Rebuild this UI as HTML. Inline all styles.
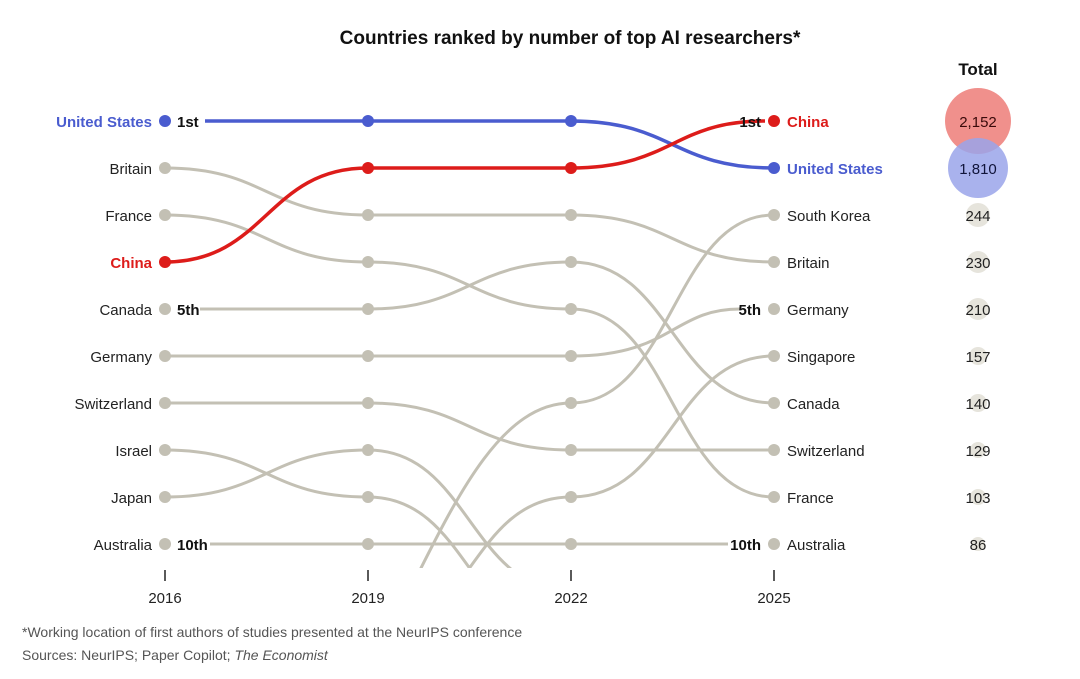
<!DOCTYPE html>
<html><head><meta charset="utf-8"><style>
html,body{margin:0;padding:0;background:#fff;width:1080px;height:679px;overflow:hidden;}
svg{display:block;font-family:"Liberation Sans",sans-serif;}
</style></head><body>
<svg width="1080" height="679" viewBox="0 0 1080 679">
<defs><clipPath id="c"><rect x="0" y="90" width="900" height="478"/></clipPath></defs>
<text x="570" y="44" text-anchor="middle" font-size="19" font-weight="bold" fill="#111">Countries ranked by number of top AI researchers*</text>
<text x="978" y="75" text-anchor="middle" font-size="17" font-weight="bold" fill="#111">Total</text>
<g clip-path="url(#c)" fill="none" stroke="#c3c0b4" stroke-width="3">
<path d="M165,168 C266,168 267,215 368,215 L571,215 C672,215 673,262 774,262"/>
<path d="M165,215 C266,215 267,262 368,262 C469,262 470,309 571,309 C672,309 673,497 774,497"/>
<path d="M200,309 L368,309 C469,309 470,262 571,262 C672,262 673,403 774,403"/>
<path d="M165,356 L571,356 C672,356 673,309 740,309"/>
<path d="M165,403 L368,403 C469,403 470,450 571,450 L774,450"/>
<path d="M165,450 C266,450 267,497 368,497 C469,497 470,639 571,639"/>
<path d="M165,497 C266,497 267,450 368,450 C469,450 470,591 571,591"/>
<path d="M210,544 L728,544"/>
<path d="M405,600 C455,500 500,403 571,403 C672,403 673,215 774,215"/>
<path d="M368,639 C469,639 470,497 571,497 C672,497 673,356 774,356"/>
</g>
<g fill="none" stroke-width="3.5">
<path d="M205,121 L571,121 C672,121 673,168 774,168" stroke="#4a5ccf"/>
<path d="M165,262 C266,262 267,168 368,168 L571,168 C672,168 673,121 765,121" stroke="#dd1c1a"/>
</g>
<g fill="#c3c0b4">
<circle cx="165" cy="168" r="6"/><circle cx="165" cy="215" r="6"/><circle cx="165" cy="309" r="6"/><circle cx="165" cy="356" r="6"/><circle cx="165" cy="403" r="6"/><circle cx="165" cy="450" r="6"/><circle cx="165" cy="497" r="6"/><circle cx="165" cy="544" r="6"/>
<circle cx="368" cy="215" r="6"/><circle cx="368" cy="262" r="6"/><circle cx="368" cy="309" r="6"/><circle cx="368" cy="356" r="6"/><circle cx="368" cy="403" r="6"/><circle cx="368" cy="450" r="6"/><circle cx="368" cy="497" r="6"/><circle cx="368" cy="544" r="6"/>
<circle cx="571" cy="215" r="6"/><circle cx="571" cy="262" r="6"/><circle cx="571" cy="309" r="6"/><circle cx="571" cy="356" r="6"/><circle cx="571" cy="403" r="6"/><circle cx="571" cy="450" r="6"/><circle cx="571" cy="497" r="6"/><circle cx="571" cy="544" r="6"/>
<circle cx="774" cy="215" r="6"/><circle cx="774" cy="262" r="6"/><circle cx="774" cy="309" r="6"/><circle cx="774" cy="356" r="6"/><circle cx="774" cy="403" r="6"/><circle cx="774" cy="450" r="6"/><circle cx="774" cy="497" r="6"/><circle cx="774" cy="544" r="6"/>
</g>
<g fill="#4a5ccf"><circle cx="165" cy="121" r="6"/><circle cx="368" cy="121" r="6"/><circle cx="571" cy="121" r="6"/><circle cx="774" cy="168" r="6"/></g>
<g fill="#dd1c1a"><circle cx="165" cy="262" r="6"/><circle cx="368" cy="168" r="6"/><circle cx="571" cy="168" r="6"/><circle cx="774" cy="121" r="6"/></g>
<g font-size="15" fill="#222" text-anchor="end">
<text x="152" y="127" fill="#4a5ccf" font-weight="bold">United States</text>
<text x="152" y="174">Britain</text>
<text x="152" y="221">France</text>
<text x="152" y="268" fill="#dd1c1a" font-weight="bold">China</text>
<text x="152" y="315">Canada</text>
<text x="152" y="362">Germany</text>
<text x="152" y="409">Switzerland</text>
<text x="152" y="456">Israel</text>
<text x="152" y="503">Japan</text>
<text x="152" y="550">Australia</text>
<text x="761" y="127" font-weight="bold" fill="#111">1st</text>
<text x="761" y="315" font-weight="bold" fill="#111">5th</text>
<text x="761" y="550" font-weight="bold" fill="#111">10th</text>
</g>
<g font-size="15" fill="#222">
<text x="177" y="127" font-weight="bold" fill="#111">1st</text>
<text x="177" y="315" font-weight="bold" fill="#111">5th</text>
<text x="177" y="550" font-weight="bold" fill="#111">10th</text>
<text x="787" y="127" fill="#dd1c1a" font-weight="bold">China</text>
<text x="787" y="174" fill="#4a5ccf" font-weight="bold">United States</text>
<text x="787" y="221">South Korea</text>
<text x="787" y="268">Britain</text>
<text x="787" y="315">Germany</text>
<text x="787" y="362">Singapore</text>
<text x="787" y="409">Canada</text>
<text x="787" y="456">Switzerland</text>
<text x="787" y="503">France</text>
<text x="787" y="550">Australia</text>
</g>
<g stroke="#222" stroke-width="1.5"><line x1="165" y1="570" x2="165" y2="581"/><line x1="368" y1="570" x2="368" y2="581"/><line x1="571" y1="570" x2="571" y2="581"/><line x1="774" y1="570" x2="774" y2="581"/></g>
<g font-size="15" fill="#222" text-anchor="middle">
<text x="165" y="603">2016</text><text x="368" y="603">2019</text><text x="571" y="603">2022</text><text x="774" y="603">2025</text>
</g>
<circle cx="978" cy="121" r="33" fill="#ef8a86" opacity="0.95"/>
<circle cx="978" cy="168" r="30" fill="#9aa5ea" opacity="0.85"/>
<g fill="#e6e4dc"><circle cx="978" cy="215" r="12"/><circle cx="978" cy="262" r="11"/><circle cx="978" cy="309" r="11"/><circle cx="978" cy="356" r="9"/><circle cx="978" cy="403" r="9"/><circle cx="978" cy="450" r="8"/><circle cx="978" cy="497" r="8"/><circle cx="978" cy="544" r="7"/></g>
<g font-size="15" fill="#222" text-anchor="middle">
<text x="978" y="127" fill="#3a0a0a">2,152</text><text x="978" y="174" fill="#10143a">1,810</text>
<text x="978" y="221">244</text><text x="978" y="268">230</text><text x="978" y="315">210</text><text x="978" y="362">157</text><text x="978" y="409">140</text><text x="978" y="456">129</text><text x="978" y="503">103</text><text x="978" y="550">86</text>
</g>
<text x="22" y="637" font-size="14" fill="#555">*Working location of first authors of studies presented at the NeurIPS conference</text>
<text x="22" y="660" font-size="14" fill="#555">Sources: NeurIPS; Paper Copilot; <tspan font-style="italic">The Economist</tspan></text>
</svg>
</body></html>
